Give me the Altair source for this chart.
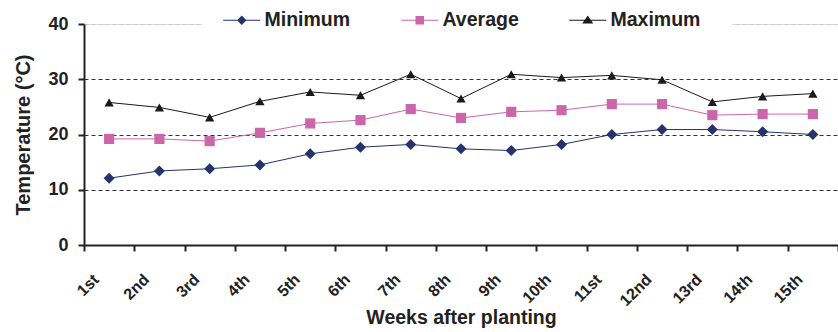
import altair as alt
import pandas as pd

# Weekly air temperature after planting (°C)
weeks = ["1st", "2nd", "3rd", "4th", "5th", "6th", "7th", "8th",
         "9th", "10th", "11st", "12nd", "13rd", "14th", "15th"]
minimum = [12.1, 13.4, 13.8, 14.5, 16.5, 17.7, 18.2, 17.4,
           17.1, 18.2, 20.0, 20.9, 20.9, 20.5, 20.0]
average = [19.2, 19.2, 18.8, 20.3, 22.0, 22.6, 24.6, 23.0,
           24.1, 24.4, 25.5, 25.5, 23.5, 23.7, 23.7]
maximum = [25.8, 24.9, 23.1, 26.0, 27.7, 27.1, 30.9, 26.5,
           30.9, 30.3, 30.7, 29.9, 25.9, 26.9, 27.4]

series = ["Minimum", "Average", "Maximum"]
colors = ["#24336b", "#cc66aa", "#1a1a1a"]

rows = []
for name, vals in zip(series, [minimum, average, maximum]):
    for w, v in zip(weeks, vals):
        rows.append({"week": w, "series": name, "temp": v})
df = pd.DataFrame(rows)

FONT = "Liberation Sans"

x_enc = alt.X(
    "week:N", sort=weeks,
    scale=alt.Scale(paddingInner=0, paddingOuter=0),
    axis=alt.Axis(
        title="Weeks after planting", labelAngle=-45, tickBand="extent",
        labelFont=FONT, labelFontWeight="bold", labelFontSize=16,
        labelColor="#222", labelOffset=-19, labelPadding=20,
        titleFont=FONT, titleFontWeight="bold", titleFontSize=19.5,
        titleColor="#222", titlePadding=0,
        domainColor="#222", domainWidth=2, tickColor="#222",
        tickWidth=2, tickSize=6, grid=False,
    ),
)
y_enc = alt.Y(
    "temp:Q",
    scale=alt.Scale(domain=[0, 40], nice=False),
    axis=alt.Axis(
        title="Temperature (°C)", values=[0, 10, 20, 30, 40],
        labelFont=FONT, labelFontWeight="bold", labelFontSize=18,
        labelColor="#222", labelPadding=10,
        titleFont=FONT, titleFontWeight="bold", titleFontSize=20,
        titleColor="#222", titlePadding=14,
        domainColor="#222", domainWidth=2, tickColor="#222",
        tickWidth=2, tickSize=6,
        grid=True, gridDash=[4, 3], gridWidth=1,
        gridColor={"condition": {"test": "datum.value === 40", "value": "#c8c8c8"},
                   "value": "#333333"},
        gridOpacity={"condition": {"test": "datum.value === 0", "value": 0},
                     "value": 1},
    ),
)

color_plain = alt.Color("series:N", sort=series,
                        scale=alt.Scale(domain=series, range=colors), legend=None)

lines = alt.Chart(df).mark_line(strokeWidth=1).encode(
    x=x_enc, y=y_enc, color=color_plain, detail="series:N"
)

points = alt.Chart(df).mark_point(filled=True, opacity=1).encode(
    x=x_enc, y=y_enc, color=color_plain,
    shape=alt.Shape("series:N", sort=series,
                    scale=alt.Scale(domain=series,
                                    range=["diamond", "square", "triangle-up"]),
                    legend=None),
    size=alt.Size("series:N", sort=series,
                  scale=alt.Scale(domain=series, range=[121, 86, 140]),
                  legend=None),
)

# legend glyphs: marker with a short line through it
bar = "M-3.7,-0.1L3.7,-0.1L3.7,0.1L-3.7,0.1Z"
legend_shapes = [
    bar + "M0,-0.95L0.95,0L0,0.95L-0.95,0Z",
    bar + "M-0.85,-0.85L0.85,-0.85L0.85,0.85L-0.85,0.85Z",
    bar + "M0,-0.95L1.1,0.65L-1.1,0.65Z",
]

legend_layer = alt.Chart(df).mark_point(filled=True, opacity=0).encode(
    x=x_enc, y=y_enc,
    color=alt.Color("series:N", sort=series,
                    scale=alt.Scale(domain=series, range=colors),
                    legend=alt.Legend(
                        title=None, orient="none", direction="horizontal",
                        legendX=118, legendY=-44, padding=30,
                        fillColor="white", strokeColor="white",
                        gridAlign="each",
                        symbolSize=100, symbolOpacity=1, symbolStrokeWidth=0,
                        labelOffset=13, columnPadding=50,
                        labelFont=FONT, labelFontWeight="bold",
                        labelFontSize=19.5, labelColor="#222",
                    )),
    shape=alt.Shape("series:N", sort=series,
                    scale=alt.Scale(domain=series, range=legend_shapes),
                    legend=None),
)

chart = alt.layer(lines, points, legend_layer).resolve_scale(
    color="independent", shape="independent"
).properties(
    width=754, height=221,
    autosize=alt.AutoSizeParams(type="none"),
    padding={"left": 84, "top": 24, "right": 0, "bottom": 87},
).configure_view(stroke=None).configure(background="white")

chart.save("out.html", embed_options={"renderer": "svg", "actions": False})
